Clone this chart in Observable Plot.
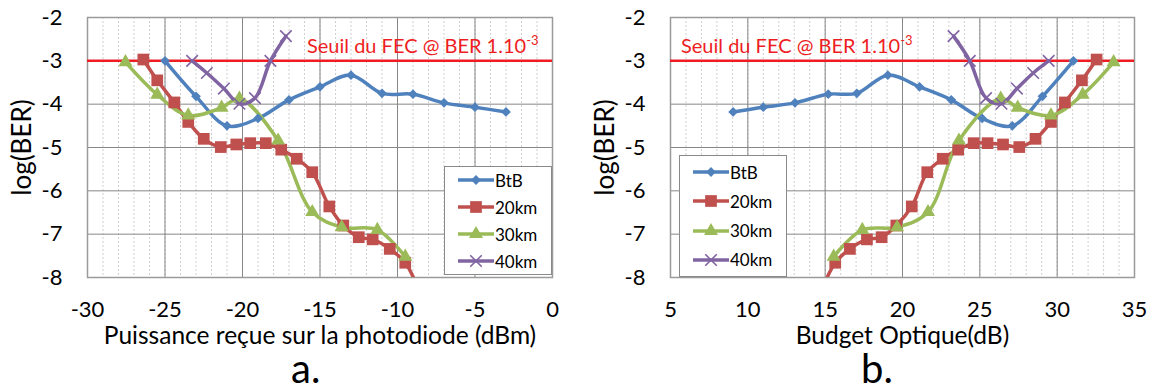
<!DOCTYPE html>
<html><head><meta charset="utf-8">
<script src="https://cdn.jsdelivr.net/npm/d3@7"></script>
<script src="https://cdn.jsdelivr.net/npm/@observablehq/plot@0.6"></script>
<style>
body{margin:0;background:#fff;font-family:Lato,sans-serif;}
#wrap{display:flex;width:1152px;height:391px;overflow:hidden;}
.panel{position:relative;width:576px;height:391px;}
.panel svg.chart{position:absolute;left:0;top:0;}
.cap{position:absolute;font-size:40px;line-height:40px;height:40px;color:#000;white-space:nowrap;}
.fec{position:absolute;color:#ee1d23;font-size:20px;line-height:1;white-space:nowrap;}
.fec sup{font-size:13px;vertical-align:0;position:relative;top:-8px;}
.legend{position:absolute;border:1px solid #8a8a8a;background:#fff;box-sizing:border-box;}
.lrow{position:absolute;left:13px;display:flex;align-items:center;height:20px;font-size:17px;color:#000;}
.lrow span{margin-left:1px;}
</style></head>
<body>
<div id="wrap"></div>
<script>
// ---------- data ----------
const seriesNames = ["BtB", "20km", "30km", "40km"];
const seriesColors = ["#4F81BD", "#C0504D", "#9BBB59", "#8064A2"];

// log(BER) values (same measurements in both panels)
const berBtB = [-3.0, -3.82, -4.5, -4.33, -3.9, -3.6, -3.33, -3.75, -3.77, -3.97, -4.07, -4.18];
const ber20 = [-2.97, -3.45, -3.96, -4.41, -4.8, -4.99, -4.93, -4.9, -4.9, -5.05, -5.26, -5.57, -6.36, -6.8, -7.07, -7.12, -7.34, -7.66, -8.4];
const ber30 = [-3.03, -3.78, -4.26, -4.08, -3.87, -4.84, -6.49, -6.84, -6.9, -7.52];
const ber40 = [-3.0, -3.28, -3.64, -3.99, -3.86, -3.0, -2.43];

// panel a: received power on the photodiode (dBm)
const powerBtB = [-25, -23, -21, -19, -17, -15, -13, -11, -9, -7, -5, -3];
const power20 = [-26.4, -25.5, -24.4, -23.5, -22.5, -21.4, -20.4, -19.5, -18.5, -17.5, -16.5, -15.5, -14.4, -13.5, -12.5, -11.6, -10.5, -9.5, -8.5];
const power30 = [-27.55, -25.5, -23.5, -21.35, -20.2, -17.7, -15.5, -13.6, -11.3, -9.5];
const power40 = [-23.25, -22.3, -21.2, -20.2, -19.2, -18.2, -17.2];

// panel b: optical budget (dB)
const budgetBtB = [31.05, 29.05, 27.1, 25.15, 23.15, 21.1, 19.05, 17.05, 15.2, 13.05, 11.0, 9.05];
const budget20 = [32.55, 31.6, 30.5, 29.6, 28.6, 27.55, 26.5, 25.5, 24.6, 23.6, 22.6, 21.6, 20.6, 19.6, 18.65, 17.7, 16.6, 15.65, 14.65];
const budget30 = [33.65, 31.65, 29.6, 27.45, 26.35, 23.65, 21.65, 19.65, 17.4, 15.55];
const budget40 = [29.45, 28.45, 27.4, 26.4, 25.4, 24.35, 23.3];

const fecThreshold = [-3];
const fecLabel = "Seuil du FEC @ BER 1.10";
const fecExponent = "-3";

const yTicks = [-2, -3, -4, -5, -6, -7, -8];
const xTicksA = [-30, -25, -20, -15, -10, -5, 0];
const xTicksB = [5, 10, 15, 20, 25, 30, 35];

// ---------- styles ----------
const markerSymbols = ["diamond2", "square", "triangle", "times"];
const d3Symbols = [d3.symbolDiamond2, d3.symbolSquare, d3.symbolTriangle, d3.symbolTimes];
const markerR = [4.4, 6.6, 5.2, 5.3];
const gridMajor = "#878787";
const gridMinor = "#cfcfcf";

function rowsFor(xs, ys) { return xs.map((x, i) => ({x, y: ys[i]})); }

function makeChart({xs, xDomain, xTicks, marginLeft, marginRight, xLabel}) {
  const bers = [berBtB, ber20, ber30, ber40];
  const minor = d3.range(xDomain[0], xDomain[1] + 0.001, 1);
  const marks = [
    Plot.gridX(minor, {stroke: gridMinor, strokeOpacity: 1, strokeDasharray: "2,2"}),
    Plot.gridX(xTicks, {stroke: gridMajor, strokeOpacity: 1}),
    Plot.gridY(yTicks, {stroke: gridMajor, strokeOpacity: 1}),
    Plot.frame({stroke: "#9a9a9a", strokeWidth: 1.5}),
    Plot.ruleY(fecThreshold, {stroke: "#ee1d23", strokeWidth: 2.5})
  ];
  seriesNames.forEach((name, i) => {
    const data = rowsFor(xs[i], bers[i]);
    marks.push(Plot.line(data, {x: "x", y: "y", stroke: seriesColors[i], strokeWidth: 3.5, curve: "catmull-rom", clip: true}));
  });
  seriesNames.forEach((name, i) => {
    const data = rowsFor(xs[i], bers[i]);
    const isStroke = markerSymbols[i] === "times";
    marks.push(Plot.dot(data, {
      x: "x", y: "y", symbol: markerSymbols[i], r: markerR[i], clip: true,
      fill: isStroke ? "none" : seriesColors[i],
      stroke: isStroke ? seriesColors[i] : "none",
      strokeWidth: isStroke ? 1.6 : 0
    }));
  });
  const chart = Plot.plot({
    width: 576, height: 391,
    marginTop: 17, marginBottom: 114, marginLeft, marginRight,
    style: {fontFamily: "Lato, sans-serif", fontSize: "22px", color: "#000", background: "transparent"},
    x: {domain: xDomain, ticks: xTicks, tickSize: 0, tickPadding: 24, tickFormat: d => String(d),
        label: xLabel, labelAnchor: "center", labelArrow: "none", labelOffset: 66},
    y: {domain: [-8, -2], ticks: yTicks, tickSize: 0, tickPadding: 25, tickFormat: d => String(d),
        label: "log(BER)", labelAnchor: "center", labelArrow: "none", labelOffset: 75},
    marks
  });
  d3.select(chart).selectAll('g[aria-label="x-axis label"]').attr("font-size", 24.5);
  d3.select(chart).selectAll('g[aria-label="y-axis label"]').attr("font-size", 26);
  return chart;
}

function makeLegend({left, top, width, height, rowTop, rowGap}) {
  const box = document.createElement("div");
  box.className = "legend";
  Object.assign(box.style, {left: left + "px", top: top + "px", width: width + "px", height: height + "px"});
  seriesNames.forEach((name, i) => {
    const row = document.createElement("div");
    row.className = "lrow";
    row.style.top = (rowTop + i * rowGap - 10) + "px";
    const svg = d3.create("svg").attr("width", 36).attr("height", 20).style("overflow", "visible");
    svg.append("line").attr("x1", 0).attr("x2", 36).attr("y1", 10).attr("y2", 10)
      .attr("stroke", seriesColors[i]).attr("stroke-width", 3.5);
    const isStroke = markerSymbols[i] === "times";
    svg.append("path").attr("transform", "translate(18,10)")
      .attr("d", d3.symbol(d3Symbols[i], markerR[i] * markerR[i] * Math.PI)())
      .attr("fill", isStroke ? "none" : seriesColors[i])
      .attr("stroke", isStroke ? seriesColors[i] : "none")
      .attr("stroke-width", isStroke ? 1.6 : 0);
    row.appendChild(svg.node());
    const t = document.createElement("span");
    t.textContent = name;
    row.appendChild(t);
    box.appendChild(row);
  });
  return box;
}

function makePanel(cfg) {
  const panel = document.createElement("div");
  panel.className = "panel";
  const chart = makeChart(cfg);
  chart.classList.add("chart");
  panel.appendChild(chart);
  const fec = document.createElement("div");
  fec.className = "fec";
  fec.style.left = cfg.fecLeft + "px";
  fec.style.top = "35px";
  fec.innerHTML = fecLabel + "<sup>" + fecExponent + "</sup>";
  panel.appendChild(fec);
  panel.appendChild(makeLegend(cfg.legend));
  const cap = document.createElement("div");
  cap.className = "cap";
  cap.style.left = cfg.capLeft + "px";
  cap.style.top = "348px";
  cap.textContent = cfg.caption;
  panel.appendChild(cap);
  return panel;
}

const wrap = document.getElementById("wrap");
wrap.appendChild(makePanel({
  xs: [powerBtB, power20, power30, power40], xDomain: [-30, 0], xTicks: xTicksA,
  marginLeft: 87, marginRight: 24, xLabel: "Puissance reçue sur la photodiode (dBm)",
  fecLeft: 307, capLeft: 291, caption: "a.",
  legend: {left: 444, top: 166, width: 108, height: 109, rowTop: 13, rowGap: 27}
}));
wrap.appendChild(makePanel({
  xs: [budgetBtB, budget20, budget30, budget40], xDomain: [5, 35], xTicks: xTicksB,
  marginLeft: 94, marginRight: 18, xLabel: "Budget Optique(dB)",
  fecLeft: 105, capLeft: 285, caption: "b.",
  legend: {left: 103, top: 155, width: 108, height: 122, rowTop: 16, rowGap: 29.3}
}));
</script>
</body></html>
